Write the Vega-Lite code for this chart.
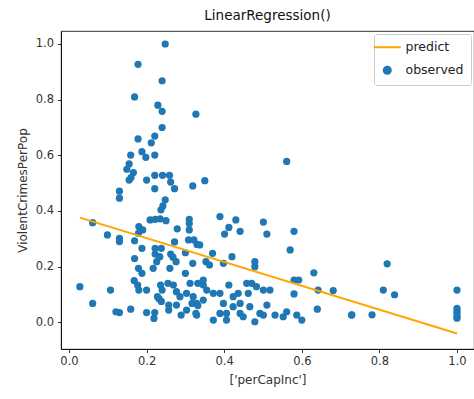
{
  "$schema": "https://vega.github.io/schema/vega-lite/v6.json",
  "width": 413,
  "height": 318,
  "autosize": {"type": "none"},
  "padding": {"left": 61, "top": 31, "right": 0, "bottom": 50},
  "title": {"text": "LinearRegression()", "fontSize": 13.5, "fontWeight": "normal", "color": "#111", "offset": 9, "font": "DejaVu Sans"},
  "config": {
    "font": "DejaVu Sans",
    "view": {"stroke": "#000", "strokeWidth": 0.8},
    "axis": {"grid": false, "domainColor": "#000", "domainWidth": 0.8, "tickColor": "#000", "tickSize": 3.5, "tickWidth": 0.8, "labelFontSize": 11.5, "labelColor": "#333", "titleFontSize": 12, "titleFontWeight": "normal", "titleColor": "#333", "labelFont": "DejaVu Sans", "titleFont": "DejaVu Sans"}
  },
  "datasets": {
    "pred": [
      {"perCapInc": 0.028, "ViolentCrimesPerPop": 0.376, "series": "predict"},
      {"perCapInc": 1.0, "ViolentCrimesPerPop": -0.040, "series": "predict"}
    ],
    "obs": [
      {"perCapInc":0.248,"ViolentCrimesPerPop":1.0},
      {"perCapInc":0.178,"ViolentCrimesPerPop":0.927},
      {"perCapInc":0.240,"ViolentCrimesPerPop":0.868},
      {"perCapInc":0.169,"ViolentCrimesPerPop":0.81},
      {"perCapInc":0.229,"ViolentCrimesPerPop":0.78},
      {"perCapInc":0.240,"ViolentCrimesPerPop":0.758},
      {"perCapInc":0.327,"ViolentCrimesPerPop":0.748},
      {"perCapInc":0.240,"ViolentCrimesPerPop":0.70},
      {"perCapInc":0.221,"ViolentCrimesPerPop":0.669},
      {"perCapInc":0.178,"ViolentCrimesPerPop":0.659},
      {"perCapInc":0.212,"ViolentCrimesPerPop":0.645},
      {"perCapInc":0.159,"ViolentCrimesPerPop":0.601},
      {"perCapInc":0.188,"ViolentCrimesPerPop":0.613},
      {"perCapInc":0.198,"ViolentCrimesPerPop":0.593},
      {"perCapInc":0.221,"ViolentCrimesPerPop":0.601},
      {"perCapInc":0.155,"ViolentCrimesPerPop":0.569},
      {"perCapInc":0.149,"ViolentCrimesPerPop":0.55},
      {"perCapInc":0.166,"ViolentCrimesPerPop":0.538},
      {"perCapInc":0.16,"ViolentCrimesPerPop":0.52},
      {"perCapInc":0.155,"ViolentCrimesPerPop":0.511},
      {"perCapInc":0.2,"ViolentCrimesPerPop":0.511},
      {"perCapInc":0.221,"ViolentCrimesPerPop":0.528},
      {"perCapInc":0.241,"ViolentCrimesPerPop":0.528},
      {"perCapInc":0.259,"ViolentCrimesPerPop":0.528},
      {"perCapInc":0.262,"ViolentCrimesPerPop":0.504},
      {"perCapInc":0.272,"ViolentCrimesPerPop":0.48},
      {"perCapInc":0.221,"ViolentCrimesPerPop":0.48},
      {"perCapInc":0.319,"ViolentCrimesPerPop":0.49},
      {"perCapInc":0.13,"ViolentCrimesPerPop":0.471},
      {"perCapInc":0.13,"ViolentCrimesPerPop":0.446},
      {"perCapInc":0.248,"ViolentCrimesPerPop":0.44},
      {"perCapInc":0.242,"ViolentCrimesPerPop":0.418},
      {"perCapInc":0.237,"ViolentCrimesPerPop":0.404},
      {"perCapInc":0.35,"ViolentCrimesPerPop":0.509},
      {"perCapInc":0.561,"ViolentCrimesPerPop":0.578},
      {"perCapInc":0.061,"ViolentCrimesPerPop":0.358},
      {"perCapInc":0.099,"ViolentCrimesPerPop":0.314},
      {"perCapInc":0.13,"ViolentCrimesPerPop":0.302},
      {"perCapInc":0.13,"ViolentCrimesPerPop":0.29},
      {"perCapInc":0.169,"ViolentCrimesPerPop":0.293},
      {"perCapInc":0.18,"ViolentCrimesPerPop":0.344},
      {"perCapInc":0.19,"ViolentCrimesPerPop":0.332},
      {"perCapInc":0.179,"ViolentCrimesPerPop":0.32},
      {"perCapInc":0.209,"ViolentCrimesPerPop":0.368},
      {"perCapInc":0.222,"ViolentCrimesPerPop":0.37},
      {"perCapInc":0.235,"ViolentCrimesPerPop":0.372},
      {"perCapInc":0.25,"ViolentCrimesPerPop":0.365},
      {"perCapInc":0.188,"ViolentCrimesPerPop":0.266},
      {"perCapInc":0.222,"ViolentCrimesPerPop":0.266},
      {"perCapInc":0.238,"ViolentCrimesPerPop":0.266},
      {"perCapInc":0.222,"ViolentCrimesPerPop":0.245},
      {"perCapInc":0.262,"ViolentCrimesPerPop":0.245},
      {"perCapInc":0.279,"ViolentCrimesPerPop":0.336},
      {"perCapInc":0.272,"ViolentCrimesPerPop":0.289},
      {"perCapInc":0.31,"ViolentCrimesPerPop":0.37},
      {"perCapInc":0.31,"ViolentCrimesPerPop":0.355},
      {"perCapInc":0.31,"ViolentCrimesPerPop":0.332},
      {"perCapInc":0.308,"ViolentCrimesPerPop":0.296},
      {"perCapInc":0.322,"ViolentCrimesPerPop":0.296},
      {"perCapInc":0.33,"ViolentCrimesPerPop":0.28},
      {"perCapInc":0.30,"ViolentCrimesPerPop":0.25},
      {"perCapInc":0.268,"ViolentCrimesPerPop":0.234},
      {"perCapInc":0.276,"ViolentCrimesPerPop":0.218},
      {"perCapInc":0.234,"ViolentCrimesPerPop":0.236},
      {"perCapInc":0.226,"ViolentCrimesPerPop":0.218},
      {"perCapInc":0.217,"ViolentCrimesPerPop":0.194},
      {"perCapInc":0.169,"ViolentCrimesPerPop":0.229},
      {"perCapInc":0.179,"ViolentCrimesPerPop":0.194},
      {"perCapInc":0.188,"ViolentCrimesPerPop":0.176},
      {"perCapInc":0.26,"ViolentCrimesPerPop":0.194},
      {"perCapInc":0.319,"ViolentCrimesPerPop":0.212},
      {"perCapInc":0.30,"ViolentCrimesPerPop":0.176},
      {"perCapInc":0.389,"ViolentCrimesPerPop":0.38},
      {"perCapInc":0.43,"ViolentCrimesPerPop":0.368},
      {"perCapInc":0.412,"ViolentCrimesPerPop":0.341},
      {"perCapInc":0.401,"ViolentCrimesPerPop":0.317},
      {"perCapInc":0.441,"ViolentCrimesPerPop":0.327},
      {"perCapInc":0.501,"ViolentCrimesPerPop":0.36},
      {"perCapInc":0.51,"ViolentCrimesPerPop":0.317},
      {"perCapInc":0.58,"ViolentCrimesPerPop":0.327},
      {"perCapInc":0.57,"ViolentCrimesPerPop":0.26},
      {"perCapInc":0.337,"ViolentCrimesPerPop":0.278},
      {"perCapInc":0.37,"ViolentCrimesPerPop":0.248},
      {"perCapInc":0.353,"ViolentCrimesPerPop":0.218},
      {"perCapInc":0.362,"ViolentCrimesPerPop":0.206},
      {"perCapInc":0.398,"ViolentCrimesPerPop":0.212},
      {"perCapInc":0.42,"ViolentCrimesPerPop":0.236},
      {"perCapInc":0.479,"ViolentCrimesPerPop":0.218},
      {"perCapInc":0.479,"ViolentCrimesPerPop":0.2},
      {"perCapInc":0.631,"ViolentCrimesPerPop":0.178},
      {"perCapInc":0.58,"ViolentCrimesPerPop":0.152},
      {"perCapInc":0.592,"ViolentCrimesPerPop":0.152},
      {"perCapInc":0.642,"ViolentCrimesPerPop":0.116},
      {"perCapInc":0.681,"ViolentCrimesPerPop":0.114},
      {"perCapInc":0.58,"ViolentCrimesPerPop":0.102},
      {"perCapInc":0.64,"ViolentCrimesPerPop":0.047},
      {"perCapInc":0.728,"ViolentCrimesPerPop":0.026},
      {"perCapInc":0.028,"ViolentCrimesPerPop":0.128},
      {"perCapInc":0.107,"ViolentCrimesPerPop":0.116},
      {"perCapInc":0.168,"ViolentCrimesPerPop":0.15},
      {"perCapInc":0.177,"ViolentCrimesPerPop":0.134},
      {"perCapInc":0.18,"ViolentCrimesPerPop":0.116},
      {"perCapInc":0.2,"ViolentCrimesPerPop":0.116},
      {"perCapInc":0.228,"ViolentCrimesPerPop":0.092},
      {"perCapInc":0.236,"ViolentCrimesPerPop":0.134},
      {"perCapInc":0.24,"ViolentCrimesPerPop":0.116},
      {"perCapInc":0.255,"ViolentCrimesPerPop":0.14},
      {"perCapInc":0.269,"ViolentCrimesPerPop":0.134},
      {"perCapInc":0.277,"ViolentCrimesPerPop":0.11},
      {"perCapInc":0.286,"ViolentCrimesPerPop":0.092},
      {"perCapInc":0.303,"ViolentCrimesPerPop":0.104},
      {"perCapInc":0.312,"ViolentCrimesPerPop":0.14},
      {"perCapInc":0.332,"ViolentCrimesPerPop":0.14},
      {"perCapInc":0.232,"ViolentCrimesPerPop":0.085},
      {"perCapInc":0.238,"ViolentCrimesPerPop":0.075},
      {"perCapInc":0.257,"ViolentCrimesPerPop":0.062},
      {"perCapInc":0.257,"ViolentCrimesPerPop":0.044},
      {"perCapInc":0.277,"ViolentCrimesPerPop":0.062},
      {"perCapInc":0.289,"ViolentCrimesPerPop":0.026},
      {"perCapInc":0.303,"ViolentCrimesPerPop":0.044},
      {"perCapInc":0.317,"ViolentCrimesPerPop":0.068},
      {"perCapInc":0.327,"ViolentCrimesPerPop":0.032},
      {"perCapInc":0.332,"ViolentCrimesPerPop":0.06},
      {"perCapInc":0.061,"ViolentCrimesPerPop":0.068},
      {"perCapInc":0.121,"ViolentCrimesPerPop":0.038},
      {"perCapInc":0.13,"ViolentCrimesPerPop":0.035},
      {"perCapInc":0.159,"ViolentCrimesPerPop":0.047},
      {"perCapInc":0.2,"ViolentCrimesPerPop":0.035},
      {"perCapInc":0.221,"ViolentCrimesPerPop":0.035},
      {"perCapInc":0.219,"ViolentCrimesPerPop":0.014},
      {"perCapInc":0.346,"ViolentCrimesPerPop":0.152},
      {"perCapInc":0.346,"ViolentCrimesPerPop":0.134},
      {"perCapInc":0.355,"ViolentCrimesPerPop":0.116},
      {"perCapInc":0.32,"ViolentCrimesPerPop":0.092},
      {"perCapInc":0.329,"ViolentCrimesPerPop":0.068},
      {"perCapInc":0.346,"ViolentCrimesPerPop":0.08},
      {"perCapInc":0.329,"ViolentCrimesPerPop":0.026},
      {"perCapInc":0.372,"ViolentCrimesPerPop":0.104},
      {"perCapInc":0.389,"ViolentCrimesPerPop":0.104},
      {"perCapInc":0.412,"ViolentCrimesPerPop":0.134},
      {"perCapInc":0.398,"ViolentCrimesPerPop":0.068},
      {"perCapInc":0.389,"ViolentCrimesPerPop":0.032},
      {"perCapInc":0.372,"ViolentCrimesPerPop":0.008},
      {"perCapInc":0.406,"ViolentCrimesPerPop":0.032},
      {"perCapInc":0.423,"ViolentCrimesPerPop":0.092},
      {"perCapInc":0.423,"ViolentCrimesPerPop":0.056},
      {"perCapInc":0.436,"ViolentCrimesPerPop":0.104},
      {"perCapInc":0.441,"ViolentCrimesPerPop":0.068},
      {"perCapInc":0.441,"ViolentCrimesPerPop":0.032},
      {"perCapInc":0.458,"ViolentCrimesPerPop":0.14},
      {"perCapInc":0.471,"ViolentCrimesPerPop":0.14},
      {"perCapInc":0.483,"ViolentCrimesPerPop":0.128},
      {"perCapInc":0.462,"ViolentCrimesPerPop":0.104},
      {"perCapInc":0.466,"ViolentCrimesPerPop":0.056},
      {"perCapInc":0.449,"ViolentCrimesPerPop":0.02},
      {"perCapInc":0.479,"ViolentCrimesPerPop":0.002},
      {"perCapInc":0.492,"ViolentCrimesPerPop":0.032},
      {"perCapInc":0.501,"ViolentCrimesPerPop":0.116},
      {"perCapInc":0.518,"ViolentCrimesPerPop":0.116},
      {"perCapInc":0.51,"ViolentCrimesPerPop":0.062},
      {"perCapInc":0.531,"ViolentCrimesPerPop":0.026},
      {"perCapInc":0.552,"ViolentCrimesPerPop":0.02},
      {"perCapInc":0.561,"ViolentCrimesPerPop":0.038},
      {"perCapInc":0.587,"ViolentCrimesPerPop":0.026},
      {"perCapInc":0.6,"ViolentCrimesPerPop":0.008},
      {"perCapInc":0.501,"ViolentCrimesPerPop":0.026},
      {"perCapInc":0.406,"ViolentCrimesPerPop":0.008},
      {"perCapInc":0.82,"ViolentCrimesPerPop":0.21},
      {"perCapInc":0.81,"ViolentCrimesPerPop":0.116},
      {"perCapInc":0.839,"ViolentCrimesPerPop":0.099},
      {"perCapInc":0.729,"ViolentCrimesPerPop":0.027},
      {"perCapInc":0.781,"ViolentCrimesPerPop":0.027},
      {"perCapInc":1.0,"ViolentCrimesPerPop":0.116},
      {"perCapInc":1.0,"ViolentCrimesPerPop":0.05},
      {"perCapInc":1.0,"ViolentCrimesPerPop":0.04},
      {"perCapInc":1.0,"ViolentCrimesPerPop":0.03},
      {"perCapInc":1.0,"ViolentCrimesPerPop":0.02},
      {"perCapInc":1.0,"ViolentCrimesPerPop":0.015}
    ]
  },
  "encoding": {
    "x": {"field": "perCapInc", "type": "quantitative", "scale": {"domain": [-0.0206, 1.0438], "nice": false, "zero": false},
      "axis": {"title": "['perCapInc']", "values": [0, 0.2, 0.4, 0.6, 0.8, 1.0], "format": ".1f", "labelPadding": 3, "titlePadding": 7}},
    "y": {"field": "ViolentCrimesPerPop", "type": "quantitative", "scale": {"domain": [-0.0959, 1.0467], "nice": false, "zero": false},
      "axis": {"title": "ViolentCrimesPerPop", "values": [0, 0.2, 0.4, 0.6, 0.8, 1.0], "format": ".1f", "labelPadding": 4, "titlePadding": 6}}
  },
  "layer": [
    {
      "data": {"name": "obs"},
      "transform": [{"calculate": "'observed'", "as": "series"}],
      "mark": {"type": "point", "filled": true, "opacity": 1, "size": 52},
      "encoding": {
        "color": {"field": "series", "type": "nominal", "scale": {"domain": ["predict", "observed"], "range": ["orange", "#1f77b4"]}},
        "shape": {"field": "series", "type": "nominal", "scale": {"domain": ["predict", "observed"], "range": ["stroke", "circle"]}}
      }
    },
    {
      "data": {"name": "pred"},
      "mark": {"type": "line", "strokeWidth": 2},
      "encoding": {
        "color": {"field": "series", "type": "nominal", "scale": {"domain": ["predict", "observed"], "range": ["orange", "#1f77b4"]},
          "legend": {"title": null, "orient": "top-right", "offset": 3, "padding": 7, "strokeColor": "#ccc", "fillColor": "white", "cornerRadius": 3, "labelFontSize": 12.5, "labelColor": "#222", "rowPadding": 8, "labelOffset": 12,
            "encode": {"symbols": {"update": {
              "stroke": {"signal": "datum.value === 'predict' ? 'orange' : 'transparent'"},
              "strokeWidth": {"value": 2},
              "size": {"signal": "datum.value === 'predict' ? 729 : 50"}
            }}}}
        }
      }
    }
  ]
}
